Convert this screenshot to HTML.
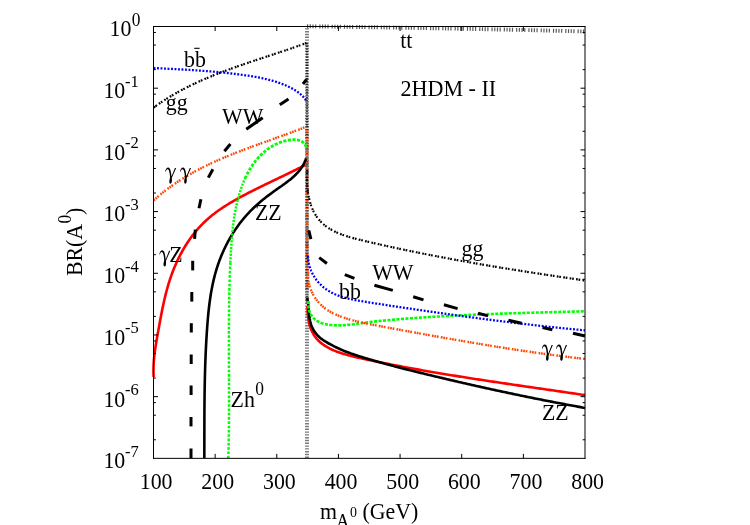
<!DOCTYPE html>
<html><head><meta charset="utf-8"><title>BR(A0) 2HDM-II</title>
<style>html,body{margin:0;padding:0;background:#fff;}svg{display:block;will-change:transform;}text{font-family:"Liberation Serif",serif;fill:#000;}</style>
</head><body>
<svg width="750" height="525" viewBox="0 0 750 525">
<rect x="0" y="0" width="750" height="525" fill="#fff"/>
<g fill="none">
<path d="M307 458 V26.6" stroke="#7a7a7a" stroke-width="3.9" stroke-dasharray="1.4 1.4"/>
<path d="M307 43 V126" stroke="#000" stroke-width="2.3" stroke-dasharray="1.4 1.3" opacity="0.75"/>
<path d="M307 126 V300" stroke="#000" stroke-width="3.0" stroke-dasharray="1.1 1.6" opacity="0.7"/>
<path d="M307 127.1 V290" stroke="#ff4500" stroke-width="3.0" stroke-dasharray="1.0 1.7"/>
</g>
<path d="M153.65 377.01 L153.57 375.48 L153.51 373.96 L153.47 372.43 L153.46 370.91 L153.46 369.40 L153.49 367.88 L153.53 366.37 L153.60 364.86 L153.68 363.36 L153.78 361.86 L153.89 360.36 L154.02 358.86 L154.16 357.36 L154.32 355.87 L154.49 354.38 L154.67 352.89 L154.87 351.40 L155.07 349.91 L155.28 348.42 L155.51 346.94 L155.74 345.45 L155.98 343.97 L156.22 342.49 L156.47 341.00 L156.73 339.52 L156.98 338.04 L157.25 336.56 L157.51 335.07 L157.78 333.59 L158.05 332.11 L158.32 330.62 L158.58 329.14 L158.85 327.66 L159.12 326.17 L159.39 324.69 L159.66 323.20 L159.93 321.71 L160.21 320.23 L160.48 318.74 L160.76 317.26 L161.04 315.77 L161.33 314.29 L161.61 312.81 L161.91 311.33 L162.20 309.84 L162.50 308.36 L162.81 306.88 L163.12 305.41 L163.44 303.93 L163.76 302.46 L164.09 300.98 L164.43 299.51 L164.77 298.04 L165.12 296.57 L165.48 295.11 L165.85 293.64 L166.23 292.18 L166.61 290.72 L167.00 289.27 L167.41 287.82 L167.82 286.37 L168.24 284.92 L168.68 283.47 L169.12 282.03 L169.58 280.59 L170.05 279.16 L170.53 277.73 L171.02 276.30 L171.53 274.88 L172.04 273.46 L172.58 272.04 L173.12 270.63 L173.68 269.23 L174.25 267.83 L174.83 266.43 L175.42 265.04 L176.03 263.66 L176.65 262.28 L177.29 260.91 L177.94 259.54 L178.60 258.18 L179.27 256.83 L179.96 255.49 L180.66 254.15 L181.37 252.82 L182.10 251.50 L182.84 250.18 L183.60 248.88 L184.36 247.58 L185.15 246.29 L185.94 245.02 L186.75 243.75 L187.57 242.49 L188.41 241.24 L189.26 240.00 L190.12 238.77 L191.00 237.55 L191.89 236.34 L192.80 235.14 L193.72 233.96 L194.65 232.79 L195.60 231.62 L196.56 230.47 L197.54 229.33 L198.53 228.21 L199.53 227.10 L200.55 226.00 L201.58 224.91 L202.63 223.84 L203.69 222.78 L204.77 221.73 L205.86 220.70 L206.96 219.69 L208.08 218.69 L209.22 217.70 L210.37 216.73 L211.53 215.77 L212.71 214.83 L213.90 213.90 L215.10 212.98 L216.31 212.08 L217.53 211.19 L218.77 210.31 L220.01 209.45 L221.26 208.59 L222.53 207.75 L223.80 206.92 L225.08 206.10 L226.36 205.28 L227.65 204.48 L228.95 203.69 L230.26 202.91 L231.57 202.13 L232.88 201.37 L234.20 200.61 L235.52 199.86 L236.84 199.11 L238.17 198.38 L239.50 197.65 L240.82 196.92 L242.16 196.20 L243.49 195.49 L244.82 194.78 L246.16 194.08 L247.49 193.39 L248.83 192.69 L250.17 192.00 L251.51 191.32 L252.85 190.64 L254.19 189.97 L255.54 189.29 L256.88 188.62 L258.23 187.96 L259.57 187.30 L260.92 186.63 L262.27 185.98 L263.62 185.32 L264.97 184.67 L266.32 184.01 L267.67 183.36 L269.03 182.71 L270.38 182.06 L271.74 181.42 L273.09 180.77 L274.45 180.12 L275.80 179.47 L277.16 178.83 L278.52 178.18 L279.88 177.53 L281.24 176.88 L282.60 176.23 L283.96 175.58 L285.32 174.92 L286.68 174.27 L288.04 173.61 L289.40 172.95 L290.76 172.29 L292.11 171.62 L293.47 170.95 L294.83 170.28 L296.18 169.61 L297.53 168.93 L298.87 168.25 L300.22 167.57 L301.56 166.88 L302.89 166.19 L304.22 165.50 L305.54 164.80" fill="none" stroke="#ff0000" stroke-width="2.6" />
<path d="M307.37 306.01 L307.43 307.46 L307.50 308.93 L307.57 310.42 L307.66 311.92 L307.77 313.42 L307.90 314.94 L308.06 316.46 L308.24 317.97 L308.46 319.49 L308.71 320.99 L309.00 322.49 L309.33 323.97 L309.72 325.43 L310.15 326.88 L310.63 328.30 L311.18 329.70 L311.78 331.06 L312.44 332.40 L313.17 333.70 L313.95 334.97 L314.78 336.20 L315.66 337.39 L316.60 338.54 L317.58 339.65 L318.60 340.72 L319.67 341.74 L320.78 342.72 L321.93 343.66 L323.12 344.55 L324.34 345.40 L325.59 346.21 L326.87 346.98 L328.18 347.72 L329.51 348.42 L330.87 349.09 L332.24 349.73 L333.63 350.34 L335.04 350.92 L336.46 351.48 L337.90 352.01 L339.34 352.52 L340.79 353.01 L342.24 353.48 L343.70 353.93 L345.15 354.36 L346.61 354.78 L348.06 355.19 L349.52 355.58 L350.98 355.96 L352.44 356.32 L353.90 356.68 L355.36 357.03 L356.82 357.37 L358.28 357.70 L359.74 358.03 L361.21 358.35 L362.67 358.67 L364.13 358.99 L365.60 359.30 L367.06 359.62 L368.53 359.93 L369.99 360.24 L371.46 360.55 L372.93 360.85 L374.39 361.16 L375.86 361.46 L377.33 361.76 L378.80 362.06 L380.27 362.36 L381.74 362.66 L383.20 362.95 L384.67 363.25 L386.15 363.54 L387.62 363.83 L389.09 364.12 L390.56 364.41 L392.03 364.70 L393.50 364.98 L394.98 365.27 L396.45 365.55 L397.92 365.83 L399.40 366.11 L400.87 366.39 L402.35 366.67 L403.82 366.94 L405.30 367.22 L406.77 367.49 L408.25 367.76 L409.73 368.04 L411.20 368.30 L412.68 368.57 L414.16 368.84 L415.64 369.11 L417.11 369.37 L418.59 369.64 L420.07 369.90 L421.55 370.16 L423.03 370.42 L424.51 370.68 L425.99 370.94 L427.47 371.19 L428.95 371.45 L430.43 371.71 L431.91 371.96 L433.39 372.21 L434.88 372.46 L436.36 372.71 L437.84 372.96 L439.32 373.21 L440.80 373.46 L442.29 373.71 L443.77 373.95 L445.25 374.20 L446.74 374.44 L448.22 374.69 L449.70 374.93 L451.19 375.17 L452.67 375.41 L454.16 375.65 L455.64 375.89 L457.13 376.13 L458.61 376.37 L460.10 376.60 L461.58 376.84 L463.07 377.07 L464.55 377.31 L466.04 377.54 L467.52 377.77 L469.01 378.01 L470.50 378.24 L471.98 378.47 L473.47 378.70 L474.96 378.93 L476.44 379.16 L477.93 379.39 L479.42 379.61 L480.90 379.84 L482.39 380.07 L483.88 380.29 L485.37 380.52 L486.85 380.74 L488.34 380.97 L489.83 381.19 L491.32 381.42 L492.80 381.64 L494.29 381.86 L495.78 382.08 L497.27 382.31 L498.75 382.53 L500.24 382.75 L501.73 382.97 L503.22 383.19 L504.71 383.41 L506.19 383.63 L507.68 383.85 L509.17 384.07 L510.66 384.28 L512.15 384.50 L513.63 384.72 L515.12 384.94 L516.61 385.15 L518.10 385.37 L519.59 385.59 L521.07 385.81 L522.56 386.02 L524.05 386.24 L525.54 386.45 L527.03 386.67 L528.51 386.89 L530.00 387.10 L531.49 387.32 L532.98 387.53 L534.46 387.75 L535.95 387.96 L537.44 388.18 L538.93 388.39 L540.41 388.61 L541.90 388.82 L543.39 389.04 L544.87 389.25 L546.36 389.47 L547.85 389.68 L549.33 389.90 L550.82 390.12 L552.30 390.33 L553.79 390.55 L555.28 390.76 L556.76 390.98 L558.25 391.19 L559.73 391.41 L561.22 391.63 L562.70 391.84 L564.19 392.06 L565.67 392.28 L567.16 392.49 L568.64 392.71 L570.13 392.93 L571.61 393.15 L573.09 393.36 L574.58 393.58 L576.06 393.80 L577.54 394.02 L579.03 394.24 L580.51 394.46 L581.99 394.68 L583.47 394.90 L584.96 395.12" fill="none" stroke="#ff0000" stroke-width="2.6" />
<path d="M204.31 458.00 L204.32 456.49 L204.32 454.99 L204.32 453.48 L204.33 451.97 L204.33 450.46 L204.34 448.95 L204.34 447.44 L204.34 445.94 L204.34 444.43 L204.35 442.92 L204.35 441.42 L204.35 439.91 L204.35 438.41 L204.35 436.90 L204.36 435.40 L204.36 433.89 L204.36 432.39 L204.36 430.88 L204.37 429.38 L204.37 427.87 L204.37 426.37 L204.38 424.87 L204.38 423.36 L204.39 421.86 L204.39 420.36 L204.40 418.86 L204.40 417.35 L204.41 415.85 L204.42 414.35 L204.43 412.85 L204.43 411.35 L204.44 409.84 L204.45 408.34 L204.46 406.84 L204.48 405.34 L204.49 403.84 L204.50 402.34 L204.52 400.84 L204.53 399.34 L204.55 397.84 L204.57 396.34 L204.58 394.83 L204.60 393.33 L204.62 391.83 L204.65 390.33 L204.67 388.83 L204.70 387.33 L204.72 385.83 L204.75 384.33 L204.78 382.83 L204.81 381.33 L204.84 379.83 L204.87 378.33 L204.91 376.83 L204.94 375.33 L204.98 373.83 L205.02 372.33 L205.06 370.83 L205.11 369.33 L205.15 367.83 L205.20 366.33 L205.25 364.83 L205.30 363.33 L205.35 361.83 L205.40 360.33 L205.46 358.83 L205.52 357.33 L205.58 355.83 L205.64 354.32 L205.71 352.82 L205.78 351.32 L205.84 349.82 L205.92 348.32 L205.99 346.82 L206.07 345.31 L206.15 343.81 L206.23 342.31 L206.31 340.81 L206.40 339.30 L206.49 337.80 L206.58 336.30 L206.67 334.80 L206.77 333.29 L206.87 331.79 L206.97 330.28 L207.08 328.78 L207.18 327.28 L207.29 325.77 L207.41 324.27 L207.53 322.76 L207.65 321.26 L207.77 319.75 L207.90 318.25 L208.04 316.74 L208.18 315.24 L208.32 313.74 L208.47 312.24 L208.63 310.74 L208.79 309.24 L208.96 307.74 L209.14 306.24 L209.32 304.74 L209.51 303.25 L209.70 301.75 L209.91 300.26 L210.12 298.77 L210.34 297.28 L210.57 295.80 L210.81 294.31 L211.05 292.83 L211.31 291.35 L211.58 289.87 L211.85 288.39 L212.14 286.92 L212.43 285.45 L212.74 283.98 L213.06 282.51 L213.39 281.05 L213.73 279.59 L214.08 278.13 L214.45 276.68 L214.82 275.22 L215.21 273.78 L215.61 272.33 L216.03 270.89 L216.46 269.46 L216.90 268.02 L217.36 266.59 L217.83 265.17 L218.31 263.75 L218.81 262.33 L219.33 260.92 L219.86 259.51 L220.40 258.11 L220.95 256.71 L221.52 255.32 L222.11 253.93 L222.71 252.55 L223.32 251.18 L223.94 249.81 L224.58 248.44 L225.24 247.09 L225.90 245.74 L226.58 244.40 L227.28 243.06 L227.99 241.73 L228.71 240.41 L229.44 239.10 L230.19 237.79 L230.96 236.50 L231.73 235.21 L232.52 233.93 L233.32 232.65 L234.14 231.39 L234.97 230.14 L235.81 228.89 L236.67 227.66 L237.54 226.43 L238.42 225.22 L239.31 224.01 L240.22 222.81 L241.14 221.63 L242.08 220.45 L243.03 219.29 L243.99 218.14 L244.96 217.00 L245.95 215.87 L246.95 214.75 L247.96 213.64 L248.98 212.55 L250.02 211.46 L251.07 210.39 L252.13 209.33 L253.21 208.29 L254.29 207.25 L255.39 206.23 L256.50 205.22 L257.62 204.22 L258.75 203.23 L259.89 202.25 L261.04 201.27 L262.20 200.31 L263.36 199.36 L264.54 198.42 L265.72 197.48 L266.92 196.56 L268.12 195.64 L269.32 194.73 L270.54 193.83 L271.76 192.93 L272.98 192.05 L274.21 191.16 L275.45 190.29 L276.69 189.42 L277.93 188.55 L279.17 187.68 L280.41 186.81 L281.65 185.94 L282.88 185.06 L284.10 184.18 L285.31 183.29 L286.52 182.40 L287.71 181.49 L288.90 180.57 L290.06 179.64 L291.21 178.70 L292.34 177.73 L293.45 176.75 L294.54 175.75 L295.60 174.72 L296.64 173.67 L297.64 172.59 L298.61 171.49 L299.55 170.35 L300.45 169.18 L301.31 167.98 L302.13 166.74 L302.90 165.46 L303.63 164.14 L304.32 162.78 L304.95 161.37 L305.52 159.92 L306.05 158.42" fill="none" stroke="#000" stroke-width="2.6" />
<path d="M307.22 298.02 L307.51 299.41 L307.75 300.84 L307.95 302.29 L308.13 303.76 L308.28 305.26 L308.42 306.77 L308.56 308.30 L308.68 309.83 L308.82 311.37 L308.96 312.91 L309.12 314.45 L309.30 315.98 L309.51 317.51 L309.75 319.02 L310.04 320.51 L310.38 321.98 L310.76 323.43 L311.21 324.85 L311.73 326.24 L312.32 327.60 L312.97 328.92 L313.68 330.20 L314.46 331.44 L315.30 332.64 L316.20 333.80 L317.16 334.92 L318.18 335.99 L319.25 337.01 L320.37 337.98 L321.54 338.91 L322.75 339.79 L323.99 340.64 L325.27 341.46 L326.58 342.24 L327.90 343.00 L329.24 343.74 L330.58 344.46 L331.93 345.17 L333.28 345.87 L334.64 346.55 L335.99 347.22 L337.35 347.88 L338.71 348.53 L340.07 349.15 L341.44 349.77 L342.82 350.36 L344.20 350.94 L345.59 351.50 L346.98 352.05 L348.38 352.58 L349.78 353.09 L351.19 353.60 L352.61 354.09 L354.02 354.57 L355.44 355.04 L356.87 355.50 L358.30 355.96 L359.73 356.41 L361.16 356.85 L362.59 357.29 L364.03 357.72 L365.46 358.15 L366.90 358.58 L368.33 359.00 L369.77 359.42 L371.21 359.84 L372.65 360.26 L374.09 360.68 L375.54 361.09 L376.98 361.50 L378.42 361.91 L379.87 362.31 L381.31 362.71 L382.76 363.11 L384.21 363.51 L385.65 363.91 L387.10 364.30 L388.55 364.69 L390.00 365.08 L391.45 365.47 L392.90 365.86 L394.35 366.24 L395.80 366.62 L397.26 367.00 L398.71 367.38 L400.16 367.76 L401.62 368.13 L403.07 368.51 L404.53 368.88 L405.98 369.25 L407.44 369.62 L408.89 369.99 L410.35 370.35 L411.81 370.72 L413.27 371.08 L414.72 371.44 L416.18 371.81 L417.64 372.17 L419.10 372.52 L420.56 372.88 L422.02 373.24 L423.48 373.59 L424.94 373.95 L426.40 374.30 L427.86 374.65 L429.32 375.01 L430.78 375.36 L432.24 375.71 L433.70 376.06 L435.16 376.41 L436.62 376.76 L438.09 377.10 L439.55 377.45 L441.01 377.80 L442.47 378.14 L443.93 378.49 L445.39 378.83 L446.86 379.18 L448.32 379.52 L449.78 379.86 L451.24 380.20 L452.70 380.54 L454.17 380.88 L455.63 381.22 L457.09 381.56 L458.56 381.90 L460.02 382.24 L461.48 382.57 L462.95 382.91 L464.41 383.24 L465.87 383.58 L467.34 383.91 L468.80 384.24 L470.26 384.58 L471.73 384.91 L473.19 385.24 L474.66 385.57 L476.12 385.90 L477.59 386.23 L479.05 386.55 L480.52 386.88 L481.98 387.21 L483.45 387.53 L484.91 387.86 L486.38 388.18 L487.84 388.50 L489.31 388.83 L490.78 389.15 L492.24 389.47 L493.71 389.79 L495.18 390.11 L496.64 390.43 L498.11 390.74 L499.58 391.06 L501.05 391.38 L502.51 391.69 L503.98 392.00 L505.45 392.32 L506.92 392.63 L508.38 392.94 L509.85 393.25 L511.32 393.56 L512.79 393.87 L514.26 394.18 L515.73 394.49 L517.20 394.80 L518.67 395.10 L520.14 395.41 L521.61 395.71 L523.08 396.01 L524.55 396.32 L526.02 396.62 L527.49 396.92 L528.96 397.22 L530.43 397.52 L531.90 397.82 L533.37 398.11 L534.85 398.41 L536.32 398.71 L537.79 399.00 L539.26 399.29 L540.73 399.59 L542.21 399.88 L543.68 400.17 L545.15 400.46 L546.63 400.75 L548.10 401.04 L549.57 401.32 L551.05 401.61 L552.52 401.90 L554.00 402.18 L555.47 402.47 L556.95 402.75 L558.42 403.03 L559.90 403.31 L561.37 403.59 L562.85 403.87 L564.33 404.15 L565.80 404.43 L567.28 404.70 L568.76 404.98 L570.23 405.25 L571.71 405.52 L573.19 405.80 L574.67 406.07 L576.14 406.34 L577.62 406.61 L579.10 406.88 L580.58 407.14 L582.06 407.41 L583.54 407.68 L585.02 407.94" fill="none" stroke="#000" stroke-width="2.6" />
<path d="M228.29 458.35 L228.34 456.85 L228.38 455.35 L228.42 453.84 L228.46 452.34 L228.50 450.84 L228.54 449.34 L228.57 447.83 L228.61 446.33 L228.64 444.83 L228.67 443.32 L228.70 441.82 L228.73 440.32 L228.75 438.82 L228.78 437.31 L228.80 435.81 L228.82 434.30 L228.84 432.80 L228.86 431.30 L228.88 429.79 L228.90 428.29 L228.92 426.78 L228.93 425.28 L228.94 423.78 L228.96 422.27 L228.97 420.77 L228.98 419.26 L228.99 417.76 L229.00 416.25 L229.01 414.75 L229.01 413.24 L229.02 411.74 L229.03 410.23 L229.03 408.73 L229.03 407.22 L229.04 405.71 L229.04 404.21 L229.04 402.70 L229.04 401.20 L229.04 399.69 L229.04 398.19 L229.04 396.68 L229.04 395.17 L229.04 393.67 L229.04 392.16 L229.03 390.66 L229.03 389.15 L229.03 387.64 L229.02 386.14 L229.02 384.63 L229.02 383.13 L229.01 381.62 L229.01 380.11 L229.00 378.61 L229.00 377.10 L228.99 375.59 L228.98 374.09 L228.98 372.58 L228.97 371.07 L228.97 369.57 L228.96 368.06 L228.96 366.55 L228.95 365.05 L228.94 363.54 L228.94 362.03 L228.93 360.53 L228.93 359.02 L228.92 357.51 L228.92 356.01 L228.91 354.50 L228.91 352.99 L228.91 351.49 L228.90 349.98 L228.90 348.47 L228.90 346.97 L228.90 345.46 L228.89 343.95 L228.89 342.45 L228.89 340.94 L228.89 339.43 L228.89 337.93 L228.89 336.42 L228.90 334.91 L228.90 333.41 L228.90 331.90 L228.91 330.39 L228.91 328.89 L228.92 327.38 L228.92 325.87 L228.93 324.37 L228.94 322.86 L228.95 321.36 L228.96 319.85 L228.97 318.34 L228.98 316.84 L228.99 315.33 L229.01 313.83 L229.02 312.32 L229.04 310.81 L229.06 309.31 L229.07 307.80 L229.09 306.30 L229.12 304.79 L229.14 303.29 L229.16 301.78 L229.19 300.27 L229.21 298.77 L229.24 297.26 L229.27 295.76 L229.30 294.25 L229.33 292.75 L229.37 291.24 L229.40 289.74 L229.44 288.23 L229.48 286.73 L229.52 285.23 L229.56 283.72 L229.60 282.22 L229.65 280.71 L229.70 279.21 L229.74 277.70 L229.79 276.20 L229.85 274.70 L229.90 273.19 L229.96 271.69 L230.02 270.19 L230.08 268.68 L230.14 267.18 L230.20 265.68 L230.27 264.17 L230.34 262.67" fill="none" stroke="#00ff00" stroke-width="2.5" stroke-dasharray="2.6 1.7"/>
<path d="M230.34 262.67 L230.41 261.17 L230.48 259.66 L230.55 258.16 L230.63 256.66 L230.71 255.16 L230.79 253.66 L230.87 252.15 L230.96 250.65 L231.05 249.15 L231.14 247.65 L231.24 246.15 L231.34 244.65 L231.44 243.15 L231.55 241.65 L231.66 240.15 L231.78 238.65 L231.90 237.15 L232.03 235.65 L232.16 234.16 L232.30 232.66 L232.45 231.17 L232.61 229.67 L232.77 228.18 L232.94 226.69 L233.12 225.19 L233.30 223.70 L233.50 222.22 L233.70 220.73 L233.91 219.24 L234.13 217.76 L234.37 216.27 L234.61 214.79 L234.86 213.31 L235.13 211.83 L235.40 210.35 L235.69 208.87 L235.99 207.40 L236.30 205.92 L236.62 204.45 L236.96 202.98 L237.31 201.51 L237.67 200.05 L238.05 198.58 L238.44 197.12 L238.84 195.66 L239.26 194.20 L239.70 192.75 L240.15 191.30 L240.62 189.86 L241.10 188.42 L241.60 186.99 L242.12 185.56 L242.66 184.15 L243.21 182.74 L243.79 181.34 L244.38 179.95 L244.99 178.57" fill="none" stroke="#00ff00" stroke-width="2.5" stroke-dasharray="2.1 1.3"/>
<path d="M244.99 178.57 L245.62 177.20 L246.27 175.84 L246.94 174.49 L247.63 173.16 L248.35 171.84 L249.08 170.53 L249.84 169.24 L250.62 167.96 L251.42 166.70 L252.25 165.46 L253.10 164.23 L253.97 163.02 L254.87 161.83 L255.80 160.65 L256.75 159.50 L257.72 158.37 L258.72 157.26 L259.75 156.16 L260.80 155.10 L261.88 154.05 L262.99 153.03 L264.12 152.04 L265.27 151.08 L266.45 150.14 L267.65 149.23 L268.88 148.36 L270.13 147.52 L271.40 146.71 L272.70 145.94 L274.02 145.21 L275.35 144.51 L276.71 143.85 L278.09 143.24 L279.49 142.66 L280.92 142.13 L282.36 141.64 L283.81 141.20 L285.29 140.81 L286.79 140.46 L288.30 140.17 L289.83 139.93 L291.36 139.76 L292.89 139.66 L294.40 139.65 L295.89 139.74 L297.34 139.94 L298.75 140.27 L300.12 140.72 L301.42 141.32 L302.64 142.08 L303.77 143.00 L304.75 144.11 L305.54 145.43 L306.11 146.97" fill="none" stroke="#00ff00" stroke-width="2.8" stroke-dasharray="3.1 1.5"/>
<path d="M308.54 300.86 L308.36 302.48 L308.29 304.10 L308.35 305.71 L308.51 307.29 L308.79 308.84 L309.17 310.35 L309.65 311.81 L310.24 313.22 L310.92 314.55 L311.70 315.81 L312.56 316.99 L313.51 318.07 L314.55 319.06 L315.66 319.96 L316.83 320.76 L318.08 321.49 L319.38 322.14 L320.72 322.72 L322.12 323.22 L323.55 323.66 L325.01 324.04 L326.50 324.36 L328.01 324.64 L329.53 324.86 L331.06 325.04 L332.58 325.18 L334.11 325.28 L335.63 325.35 L337.15 325.38 L338.66 325.39 L340.18 325.37 L341.69 325.32 L343.20 325.25 L344.70 325.15 L346.21 325.04 L347.71 324.91 L349.21 324.76 L350.71 324.59 L352.21 324.42 L353.71 324.23 L355.20 324.04 L356.70 323.84 L358.20 323.63 L359.69 323.42 L361.19 323.22 L362.68 323.01 L364.17 322.81 L365.67 322.61 L367.16 322.42 L368.66 322.23 L370.15 322.05 L371.65 321.87 L373.15 321.70 L374.64 321.53 L376.14 321.36 L377.63 321.20 L379.13 321.05 L380.63 320.89 L382.12 320.74 L383.62 320.59 L385.12 320.45 L386.61 320.31 L388.11 320.17 L389.61 320.03 L391.11 319.90 L392.60 319.77 L394.10 319.64 L395.60 319.51 L397.10 319.39 L398.60 319.26 L400.10 319.14 L401.59 319.02 L403.09 318.90 L404.59 318.78 L406.09 318.66 L407.59 318.54 L409.09 318.43 L410.59 318.32 L412.09 318.21 L413.59 318.10 L415.09 317.99 L416.59 317.88 L418.09 317.78 L419.59 317.67 L421.09 317.57 L422.59 317.47 L424.09 317.37 L425.59 317.27 L427.10 317.17 L428.60 317.07 L430.10 316.98 L431.60 316.88 L433.10 316.79 L434.60 316.70 L436.10 316.61 L437.61 316.52 L439.11 316.43 L440.61 316.34 L442.11 316.26 L443.62 316.17 L445.12 316.09 L446.62 316.01 L448.12 315.93 L449.63 315.85 L451.13 315.77 L452.63 315.69 L454.13 315.61 L455.64 315.54 L457.14 315.46 L458.64 315.39 L460.15 315.31 L461.65 315.24 L463.15 315.17 L464.66 315.10 L466.16 315.03 L467.66 314.96 L469.17 314.90 L470.67 314.83 L472.18 314.76 L473.68 314.70 L475.18 314.63 L476.69 314.57 L478.19 314.51 L479.70 314.45 L481.20 314.39 L482.70 314.33 L484.21 314.27 L485.71 314.21 L487.22 314.15 L488.72 314.09 L490.23 314.04 L491.73 313.98 L493.23 313.93 L494.74 313.87 L496.24 313.82 L497.75 313.77 L499.25 313.71 L500.76 313.66 L502.26 313.61 L503.77 313.56 L505.27 313.51 L506.78 313.46 L508.28 313.41 L509.79 313.36 L511.29 313.31 L512.79 313.27 L514.30 313.22 L515.80 313.17 L517.31 313.13 L518.81 313.08 L520.32 313.03 L521.82 312.99 L523.33 312.94 L524.83 312.90 L526.34 312.86 L527.84 312.81 L529.35 312.77 L530.85 312.73 L532.36 312.68 L533.86 312.64 L535.37 312.60 L536.87 312.56 L538.37 312.52 L539.88 312.48 L541.38 312.43 L542.89 312.39 L544.39 312.35 L545.90 312.31 L547.40 312.27 L548.91 312.23 L550.41 312.19 L551.91 312.15 L553.42 312.11 L554.92 312.07 L556.43 312.03 L557.93 311.99 L559.43 311.95 L560.94 311.92 L562.44 311.88 L563.95 311.84 L565.45 311.80 L566.95 311.76 L568.46 311.72 L569.96 311.68 L571.46 311.64 L572.97 311.60 L574.47 311.56 L575.97 311.52 L577.48 311.48 L578.98 311.44 L580.48 311.40 L581.99 311.36 L583.49 311.32 L584.99 311.28" fill="none" stroke="#00ff00" stroke-width="2.6" stroke-dasharray="3.1 1.4"/>
<path d="M153.63 200.39 L154.78 199.35 L155.93 198.33 L157.08 197.31 L158.25 196.31 L159.42 195.32 L160.59 194.34 L161.78 193.38 L162.97 192.42 L164.16 191.48 L165.36 190.54 L166.57 189.62 L167.79 188.70 L169.00 187.80 L170.23 186.91 L171.46 186.03 L172.70 185.15 L173.94 184.29 L175.19 183.44 L176.44 182.60 L177.70 181.76 L178.96 180.94 L180.23 180.12 L181.50 179.32 L182.78 178.52 L184.06 177.73 L185.35 176.95 L186.64 176.18 L187.94 175.42 L189.24 174.66 L190.55 173.92 L191.86 173.18 L193.17 172.45 L194.49 171.72 L195.81 171.01 L197.14 170.30 L198.47 169.60 L199.81 168.91 L201.15 168.22 L202.49 167.54 L203.84 166.87 L205.19 166.20 L206.54 165.54 L207.89 164.89 L209.25 164.24 L210.62 163.60 L211.98 162.96 L213.35 162.33 L214.73 161.71 L216.10 161.09 L217.48 160.47 L218.86 159.87 L220.24 159.26 L221.63 158.66 L223.02 158.07 L224.41 157.48 L225.80 156.90 L227.20 156.32 L228.60 155.74 L230.00 155.17 L231.40 154.60 L232.80 154.04 L234.21 153.48 L235.62 152.92 L237.02 152.37 L238.44 151.82 L239.85 151.27 L241.26 150.73 L242.68 150.18 L244.09 149.65 L245.51 149.11 L246.93 148.58 L248.35 148.05 L249.77 147.52 L251.19 146.99 L252.61 146.47 L254.04 145.94 L255.46 145.42 L256.88 144.90 L258.31 144.38 L259.73 143.87 L261.16 143.35 L262.58 142.83 L264.01 142.32 L265.44 141.81 L266.86 141.29 L268.29 140.78 L269.71 140.27 L271.14 139.75 L272.56 139.24 L273.99 138.73 L275.41 138.21 L276.83 137.70 L278.26 137.19 L279.68 136.67 L281.10 136.16 L282.52 135.64 L283.94 135.12 L285.35 134.60 L286.77 134.08 L288.19 133.56 L289.60 133.03 L291.01 132.51 L292.43 131.98 L293.83 131.45 L295.24 130.92 L296.65 130.39 L298.05 129.85 L299.46 129.31 L300.86 128.77 L302.25 128.22 L303.65 127.67 L305.05 127.12 L306.44 126.57" fill="none" stroke="#ff4500" stroke-width="2.4" stroke-dasharray="1.7 0.8 1.7 0.8 1.7 2.3"/>
<path d="M308.11 271.81 L308.03 273.40 L308.01 274.98 L308.05 276.55 L308.15 278.10 L308.31 279.64 L308.53 281.16 L308.80 282.66 L309.13 284.15 L309.51 285.62 L309.94 287.07 L310.43 288.50 L310.96 289.90 L311.54 291.28 L312.17 292.64 L312.85 293.97 L313.57 295.28 L314.33 296.56 L315.14 297.81 L315.98 299.03 L316.87 300.21 L317.80 301.37 L318.77 302.49 L319.77 303.58 L320.81 304.63 L321.88 305.65 L322.98 306.63 L324.12 307.57 L325.29 308.47 L326.48 309.33 L327.71 310.16 L328.96 310.94 L330.23 311.70 L331.53 312.42 L332.85 313.12 L334.19 313.78 L335.55 314.41 L336.92 315.02 L338.31 315.60 L339.71 316.15 L341.12 316.69 L342.54 317.20 L343.98 317.69 L345.41 318.17 L346.86 318.62 L348.31 319.06 L349.76 319.49 L351.21 319.90 L352.66 320.30 L354.12 320.68 L355.58 321.06 L357.04 321.42 L358.51 321.77 L359.97 322.11 L361.44 322.45 L362.91 322.77 L364.38 323.09 L365.85 323.40 L367.32 323.70 L368.79 324.00 L370.26 324.29 L371.74 324.58 L373.21 324.86 L374.69 325.14 L376.17 325.42 L377.64 325.69 L379.12 325.97 L380.60 326.24 L382.07 326.52 L383.55 326.79 L385.03 327.06 L386.50 327.34 L387.98 327.61 L389.46 327.88 L390.93 328.16 L392.41 328.43 L393.88 328.70 L395.36 328.98 L396.84 329.25 L398.31 329.52 L399.79 329.79 L401.27 330.07 L402.74 330.34 L404.22 330.61 L405.70 330.88 L407.17 331.15 L408.65 331.42 L410.12 331.69 L411.60 331.96 L413.08 332.23 L414.55 332.50 L416.03 332.77 L417.51 333.04 L418.98 333.31 L420.46 333.58 L421.94 333.85 L423.41 334.11 L424.89 334.38 L426.36 334.65 L427.84 334.92 L429.32 335.18 L430.79 335.45 L432.27 335.71 L433.75 335.98 L435.22 336.24 L436.70 336.51 L438.18 336.77 L439.66 337.03 L441.13 337.30 L442.61 337.56 L444.09 337.82 L445.56 338.08 L447.04 338.34 L448.52 338.60 L450.00 338.86 L451.47 339.12 L452.95 339.38 L454.43 339.64 L455.91 339.89 L457.38 340.15 L458.86 340.41 L460.34 340.66 L461.82 340.92 L463.30 341.17 L464.77 341.42 L466.25 341.68 L467.73 341.93 L469.21 342.18 L470.69 342.43 L472.17 342.68 L473.64 342.93 L475.12 343.18 L476.60 343.43 L478.08 343.68 L479.56 343.92 L481.04 344.17 L482.52 344.42 L484.00 344.66 L485.48 344.90 L486.96 345.15 L488.44 345.39 L489.92 345.63 L491.40 345.87 L492.88 346.11 L494.36 346.35 L495.84 346.59 L497.32 346.83 L498.80 347.06 L500.28 347.30 L501.77 347.53 L503.25 347.77 L504.73 348.00 L506.21 348.23 L507.69 348.46 L509.17 348.69 L510.66 348.92 L512.14 349.15 L513.62 349.38 L515.10 349.60 L516.59 349.83 L518.07 350.05 L519.55 350.27 L521.04 350.50 L522.52 350.72 L524.00 350.94 L525.49 351.16 L526.97 351.38 L528.46 351.59 L529.94 351.81 L531.43 352.02 L532.91 352.24 L534.40 352.45 L535.88 352.66 L537.37 352.87 L538.85 353.08 L540.34 353.29 L541.83 353.50 L543.31 353.70 L544.80 353.91 L546.29 354.11 L547.77 354.31 L549.26 354.51 L550.75 354.71 L552.24 354.91 L553.73 355.11 L555.21 355.31 L556.70 355.50 L558.19 355.70 L559.68 355.89 L561.17 356.08 L562.66 356.27 L564.15 356.46 L565.64 356.65 L567.13 356.83 L568.62 357.02 L570.11 357.20 L571.60 357.38 L573.09 357.56 L574.58 357.74 L576.08 357.92 L577.57 358.10 L579.06 358.27 L580.55 358.45 L582.05 358.62 L583.54 358.79 L585.03 358.96" fill="none" stroke="#ff4500" stroke-width="2.4" stroke-dasharray="1.7 0.8 1.7 0.8 1.7 2.3"/>
<path d="M153.54 68.02 L155.07 68.10 L156.59 68.18 L158.10 68.25 L159.62 68.33 L161.14 68.41 L162.65 68.48 L164.16 68.56 L165.68 68.63 L167.19 68.71 L168.70 68.79 L170.21 68.86 L171.71 68.94 L173.22 69.02 L174.73 69.10 L176.23 69.18 L177.73 69.26 L179.24 69.34 L180.74 69.42 L182.24 69.51 L183.74 69.59 L185.24 69.68 L186.74 69.76 L188.24 69.85 L189.74 69.94 L191.24 70.04 L192.73 70.13 L194.23 70.23 L195.72 70.32 L197.22 70.42 L198.71 70.53 L200.21 70.63 L201.70 70.74 L203.20 70.85 L204.69 70.96 L206.19 71.07 L207.68 71.19 L209.17 71.31 L210.67 71.43 L212.16 71.56 L213.65 71.69 L215.15 71.82 L216.64 71.95 L218.13 72.09 L219.63 72.23 L221.12 72.38 L222.61 72.53 L224.11 72.68 L225.60 72.84 L227.10 73.00 L228.59 73.16 L230.09 73.33 L231.58 73.51 L233.08 73.68 L234.57 73.87 L236.07 74.05 L237.57 74.24 L239.07 74.44 L240.57 74.64 L242.06 74.84 L243.56 75.05 L245.07 75.27 L246.57 75.49 L248.07 75.71 L249.57 75.94 L251.08 76.18 L252.58 76.43 L254.08 76.68 L255.58 76.94 L257.08 77.21 L258.58 77.49 L260.07 77.78 L261.56 78.08 L263.05 78.39 L264.53 78.71 L266.01 79.05 L267.48 79.40 L268.95 79.77 L270.41 80.15 L271.87 80.54 L273.32 80.96 L274.76 81.39 L276.20 81.83 L277.62 82.30 L279.04 82.79 L280.45 83.29 L281.85 83.82 L283.24 84.36 L284.62 84.93 L285.99 85.52 L287.35 86.13 L288.69 86.77 L290.03 87.43 L291.35 88.12 L292.66 88.83 L293.95 89.57 L295.23 90.34 L296.48 91.14 L297.72 91.98 L298.91 92.86 L300.08 93.78 L301.20 94.76 L302.28 95.79 L303.31 96.88 L304.28 98.03 L305.19 99.25 L306.04 100.54 L306.82 101.90" fill="none" stroke="#0000ff" stroke-width="2.3" stroke-dasharray="1.9 1.6"/>
<path d="M307.94 255.89 L308.01 257.45 L308.14 259.00 L308.32 260.54 L308.56 262.07 L308.86 263.58 L309.22 265.07 L309.63 266.55 L310.09 268.01 L310.60 269.44 L311.17 270.85 L311.78 272.24 L312.44 273.60 L313.15 274.93 L313.91 276.23 L314.71 277.51 L315.55 278.75 L316.44 279.95 L317.36 281.12 L318.33 282.26 L319.33 283.36 L320.37 284.42 L321.45 285.45 L322.55 286.44 L323.69 287.39 L324.86 288.31 L326.06 289.19 L327.28 290.04 L328.53 290.84 L329.80 291.61 L331.09 292.34 L332.41 293.03 L333.74 293.69 L335.09 294.31 L336.45 294.89 L337.84 295.44 L339.23 295.96 L340.65 296.45 L342.07 296.91 L343.51 297.34 L344.95 297.75 L346.41 298.14 L347.88 298.51 L349.35 298.85 L350.83 299.18 L352.32 299.50 L353.82 299.79 L355.31 300.08 L356.81 300.35 L358.32 300.62 L359.82 300.88 L361.33 301.13 L362.83 301.37 L364.34 301.62 L365.84 301.86 L367.34 302.10 L368.83 302.34 L370.33 302.58 L371.82 302.82 L373.32 303.05 L374.81 303.29 L376.30 303.52 L377.78 303.75 L379.27 303.98 L380.76 304.21 L382.24 304.44 L383.73 304.67 L385.21 304.90 L386.69 305.13 L388.18 305.35 L389.66 305.58 L391.14 305.81 L392.62 306.03 L394.11 306.25 L395.59 306.48 L397.07 306.70 L398.55 306.93 L400.04 307.15 L401.52 307.37 L403.00 307.59 L404.49 307.82 L405.97 308.04 L407.45 308.26 L408.94 308.48 L410.42 308.70 L411.91 308.92 L413.39 309.14 L414.88 309.36 L416.36 309.58 L417.85 309.80 L419.33 310.02 L420.82 310.23 L422.30 310.45 L423.79 310.67 L425.28 310.88 L426.76 311.10 L428.25 311.32 L429.74 311.53 L431.22 311.75 L432.71 311.96 L434.20 312.17 L435.69 312.39 L437.17 312.60 L438.66 312.81 L440.15 313.02 L441.64 313.24 L443.13 313.45 L444.61 313.66 L446.10 313.87 L447.59 314.08 L449.08 314.28 L450.57 314.49 L452.06 314.70 L453.55 314.91 L455.04 315.11 L456.53 315.32 L458.02 315.53 L459.51 315.73 L461.00 315.94 L462.49 316.14 L463.98 316.34 L465.47 316.55 L466.96 316.75 L468.45 316.95 L469.95 317.15 L471.44 317.35 L472.93 317.55 L474.42 317.75 L475.91 317.95 L477.40 318.14 L478.90 318.34 L480.39 318.54 L481.88 318.73 L483.37 318.93 L484.86 319.12 L486.36 319.32 L487.85 319.51 L489.34 319.70 L490.83 319.89 L492.33 320.09 L493.82 320.28 L495.31 320.46 L496.81 320.65 L498.30 320.84 L499.79 321.03 L501.29 321.22 L502.78 321.40 L504.27 321.59 L505.77 321.77 L507.26 321.96 L508.75 322.14 L510.25 322.32 L511.74 322.50 L513.24 322.68 L514.73 322.86 L516.22 323.04 L517.72 323.22 L519.21 323.40 L520.71 323.57 L522.20 323.75 L523.70 323.92 L525.19 324.10 L526.68 324.27 L528.18 324.44 L529.67 324.62 L531.17 324.79 L532.66 324.96 L534.16 325.13 L535.65 325.29 L537.15 325.46 L538.64 325.63 L540.14 325.79 L541.63 325.96 L543.13 326.12 L544.62 326.29 L546.12 326.45 L547.61 326.61 L549.11 326.77 L550.60 326.93 L552.10 327.09 L553.59 327.24 L555.09 327.40 L556.58 327.56 L558.08 327.71 L559.57 327.86 L561.07 328.02 L562.56 328.17 L564.06 328.32 L565.55 328.47 L567.05 328.62 L568.54 328.76 L570.04 328.91 L571.53 329.06 L573.03 329.20 L574.52 329.34 L576.01 329.49 L577.51 329.63 L579.00 329.77 L580.50 329.91 L581.99 330.05 L583.49 330.18 L584.98 330.32" fill="none" stroke="#0000ff" stroke-width="2.3" stroke-dasharray="1.9 1.6"/>
<path d="M153.55 107.60 L154.78 106.71 L156.01 105.83 L157.25 104.96 L158.50 104.09 L159.74 103.24 L161.00 102.40 L162.26 101.56 L163.52 100.74 L164.78 99.92 L166.06 99.12 L167.33 98.32 L168.61 97.53 L169.90 96.75 L171.18 95.98 L172.48 95.21 L173.77 94.46 L175.07 93.71 L176.38 92.97 L177.69 92.24 L179.00 91.52 L180.32 90.80 L181.64 90.09 L182.96 89.39 L184.29 88.70 L185.62 88.02 L186.95 87.34 L188.29 86.67 L189.63 86.00 L190.97 85.34 L192.32 84.69 L193.67 84.05 L195.02 83.41 L196.38 82.78 L197.74 82.15 L199.10 81.53 L200.47 80.92 L201.84 80.31 L203.21 79.71 L204.58 79.11 L205.96 78.52 L207.33 77.93 L208.71 77.35 L210.10 76.78 L211.48 76.21 L212.87 75.64 L214.26 75.08 L215.65 74.52 L217.05 73.97 L218.44 73.42 L219.84 72.88 L221.24 72.34 L222.64 71.81 L224.05 71.28 L225.45 70.75 L226.86 70.22 L228.27 69.70 L229.68 69.19 L231.09 68.67 L232.51 68.16 L233.92 67.66 L235.34 67.15 L236.75 66.65 L238.17 66.15 L239.59 65.65 L241.01 65.16 L242.43 64.67 L243.86 64.18 L245.28 63.69 L246.70 63.21 L248.13 62.73 L249.55 62.24 L250.98 61.76 L252.41 61.29 L253.83 60.81 L255.26 60.33 L256.69 59.86 L258.12 59.38 L259.54 58.91 L260.97 58.44 L262.40 57.97 L263.83 57.50 L265.26 57.03 L266.69 56.56 L268.12 56.09 L269.55 55.62 L270.97 55.15 L272.40 54.68 L273.83 54.21 L275.26 53.74 L276.68 53.27 L278.11 52.80 L279.53 52.33 L280.96 51.85 L282.38 51.38 L283.80 50.90 L285.23 50.43 L286.65 49.95 L288.07 49.47 L289.49 48.99 L290.90 48.51 L292.32 48.02 L293.74 47.54 L295.15 47.05 L296.56 46.56 L297.98 46.07 L299.39 45.57 L300.79 45.07 L302.20 44.57 L303.61 44.07 L305.01 43.56 L306.41 43.05" fill="none" stroke="#000" stroke-width="2.2" stroke-dasharray="1.7 0.8 1.7 2.3"/>
<path d="M307.26 169.97 L307.17 171.34 L307.09 172.74 L307.03 174.17 L306.99 175.61 L306.97 177.08 L306.97 178.56 L306.98 180.06 L307.02 181.57 L307.08 183.09 L307.16 184.62 L307.27 186.16 L307.40 187.70 L307.56 189.24 L307.74 190.79 L307.96 192.34 L308.20 193.88 L308.47 195.42 L308.77 196.96 L309.10 198.48 L309.46 199.99 L309.86 201.50 L310.29 202.98 L310.75 204.45 L311.25 205.90 L311.79 207.33 L312.37 208.74 L312.98 210.13 L313.63 211.48 L314.32 212.81 L315.06 214.11 L315.83 215.37 L316.65 216.61 L317.51 217.80 L318.40 218.97 L319.34 220.09 L320.32 221.19 L321.33 222.24 L322.38 223.26 L323.47 224.23 L324.59 225.17 L325.74 226.08 L326.93 226.94 L328.15 227.77 L329.39 228.57 L330.66 229.33 L331.96 230.07 L333.28 230.77 L334.62 231.44 L335.97 232.09 L337.35 232.70 L338.74 233.30 L340.14 233.86 L341.55 234.41 L342.98 234.93 L344.41 235.43 L345.85 235.91 L347.29 236.38 L348.73 236.82 L350.18 237.25 L351.63 237.67 L353.09 238.07 L354.55 238.46 L356.01 238.84 L357.47 239.22 L358.93 239.58 L360.40 239.94 L361.86 240.29 L363.33 240.64 L364.80 240.99 L366.26 241.34 L367.73 241.68 L369.20 242.02 L370.66 242.36 L372.13 242.70 L373.60 243.04 L375.07 243.38 L376.53 243.72 L378.00 244.05 L379.47 244.38 L380.94 244.71 L382.41 245.04 L383.88 245.37 L385.34 245.70 L386.81 246.02 L388.28 246.35 L389.75 246.67 L391.22 246.99 L392.69 247.31 L394.16 247.63 L395.63 247.95 L397.10 248.26 L398.57 248.58 L400.04 248.89 L401.51 249.20 L402.98 249.51 L404.45 249.82 L405.92 250.13 L407.39 250.44 L408.86 250.74 L410.33 251.05 L411.81 251.35 L413.28 251.65 L414.75 251.95 L416.22 252.25 L417.69 252.55 L419.16 252.85 L420.64 253.14 L422.11 253.44 L423.58 253.73 L425.05 254.02 L426.53 254.31 L428.00 254.60 L429.47 254.89 L430.95 255.18 L432.42 255.46 L433.89 255.75 L435.37 256.03 L436.84 256.32 L438.31 256.60 L439.79 256.88 L441.26 257.16 L442.74 257.44 L444.21 257.71 L445.69 257.99 L447.16 258.27 L448.64 258.54 L450.11 258.81 L451.59 259.08 L453.06 259.36 L454.54 259.63 L456.01 259.90 L457.49 260.16 L458.97 260.43 L460.44 260.70 L461.92 260.96 L463.39 261.23 L464.87 261.49 L466.35 261.75 L467.83 262.01 L469.30 262.28 L470.78 262.54 L472.26 262.79 L473.74 263.05 L475.21 263.31 L476.69 263.57 L478.17 263.82 L479.65 264.07 L481.13 264.33 L482.60 264.58 L484.08 264.83 L485.56 265.08 L487.04 265.33 L488.52 265.58 L490.00 265.83 L491.48 266.08 L492.96 266.33 L494.44 266.57 L495.92 266.82 L497.40 267.07 L498.88 267.31 L500.36 267.55 L501.84 267.80 L503.32 268.04 L504.80 268.28 L506.28 268.52 L507.77 268.76 L509.25 269.00 L510.73 269.24 L512.21 269.48 L513.69 269.71 L515.18 269.95 L516.66 270.19 L518.14 270.42 L519.62 270.66 L521.11 270.89 L522.59 271.12 L524.07 271.36 L525.56 271.59 L527.04 271.82 L528.52 272.05 L530.01 272.28 L531.49 272.51 L532.97 272.74 L534.46 272.97 L535.94 273.20 L537.43 273.43 L538.91 273.66 L540.40 273.88 L541.88 274.11 L543.37 274.33 L544.85 274.56 L546.34 274.79 L547.83 275.01 L549.31 275.23 L550.80 275.46 L552.28 275.68 L553.77 275.90 L555.26 276.13 L556.74 276.35 L558.23 276.57 L559.72 276.79 L561.21 277.01 L562.69 277.23 L564.18 277.45 L565.67 277.67 L567.16 277.89 L568.65 278.11 L570.13 278.33 L571.62 278.55 L573.11 278.77 L574.60 278.99 L576.09 279.21 L577.58 279.42 L579.07 279.64 L580.56 279.86 L582.05 280.07 L583.54 280.29 L585.03 280.51" fill="none" stroke="#000" stroke-width="2.2" stroke-dasharray="1.7 0.8 1.7 2.3"/>
<g stroke="#000" stroke-width="3" fill="none">
<line x1="191.0" y1="448.5" x2="191.0" y2="458.3"/>
<line x1="191.0" y1="417.0" x2="191.0" y2="426.4"/>
<line x1="191.1" y1="385.5" x2="191.1" y2="395.0"/>
<line x1="191.2" y1="354.5" x2="191.2" y2="364.0"/>
<line x1="191.3" y1="323.2" x2="191.3" y2="332.5"/>
<line x1="191.8" y1="292.0" x2="191.8" y2="301.6"/>
<line x1="192.7" y1="260.8" x2="192.7" y2="270.4"/>
<line x1="195.3" y1="229.6" x2="194.6" y2="238.9"/>
<line x1="200.9" y1="199.2" x2="199.0" y2="208.3"/>
<line x1="212.9" y1="169.2" x2="208.3" y2="177.6"/>
<line x1="230.4" y1="144.0" x2="224.4" y2="151.2"/>
<line x1="262.7" y1="117.7" x2="246.3" y2="129.3"/>
<line x1="288.5" y1="98.9" x2="279.8" y2="104.7"/>
<line x1="306.5" y1="79.4" x2="303.0" y2="84.0"/>
<line x1="308.8" y1="230.4" x2="310.9" y2="239.2"/>
<line x1="319.2" y1="257.6" x2="326.9" y2="263.5"/>
<line x1="344.8" y1="274.7" x2="354.4" y2="278.4"/>
<line x1="374.4" y1="285.3" x2="392.8" y2="290.4"/>
<line x1="413.2" y1="296.8" x2="423.5" y2="299.9"/>
<line x1="443.9" y1="304.8" x2="457.6" y2="308.6"/>
<line x1="478.0" y1="313.2" x2="488.0" y2="315.9"/>
<line x1="508.4" y1="320.3" x2="521.6" y2="323.3"/>
<line x1="542.5" y1="327.5" x2="552.4" y2="329.7"/>
<line x1="573.0" y1="333.3" x2="585.0" y2="336.0"/>
</g>
<path d="M307.00 26.25 L308.50 26.27 L310.01 26.30 L311.51 26.32 L313.01 26.34 L314.51 26.36 L316.02 26.39 L317.52 26.41 L319.02 26.43 L320.53 26.45 L322.03 26.48 L323.53 26.50 L325.03 26.52 L326.54 26.54 L328.04 26.56 L329.54 26.59 L331.05 26.61 L332.55 26.63 L334.05 26.65 L335.55 26.68 L337.06 26.70 L338.56 26.72 L340.06 26.75 L341.56 26.77 L343.07 26.79 L344.57 26.81 L346.07 26.84 L347.58 26.86 L349.08 26.88 L350.58 26.90 L352.08 26.93 L353.59 26.95 L355.09 26.97 L356.59 27.00 L358.10 27.02 L359.60 27.04 L361.10 27.06 L362.60 27.09 L364.11 27.11 L365.61 27.13 L367.11 27.16 L368.61 27.18 L370.12 27.20 L371.62 27.23 L373.12 27.25 L374.63 27.27 L376.13 27.30 L377.63 27.32 L379.13 27.34 L380.64 27.37 L382.14 27.39 L383.64 27.41 L385.15 27.44 L386.65 27.46 L388.15 27.49 L389.65 27.51 L391.16 27.53 L392.66 27.56 L394.16 27.58 L395.66 27.61 L397.17 27.63 L398.67 27.65 L400.17 27.68 L401.68 27.70 L403.18 27.73 L404.68 27.75 L406.18 27.78 L407.69 27.80 L409.19 27.83 L410.69 27.85 L412.20 27.87 L413.70 27.90 L415.20 27.92 L416.70 27.95 L418.21 27.97 L419.71 28.00 L421.21 28.03 L422.71 28.05 L424.22 28.08 L425.72 28.10 L427.22 28.13 L428.73 28.15 L430.23 28.18 L431.73 28.21 L433.23 28.23 L434.74 28.26 L436.24 28.28 L437.74 28.31 L439.25 28.34 L440.75 28.36 L442.25 28.39 L443.75 28.42 L445.26 28.44 L446.76 28.47 L448.26 28.50 L449.76 28.52 L451.27 28.55 L452.77 28.58 L454.27 28.61 L455.78 28.63 L457.28 28.66 L458.78 28.69 L460.28 28.72 L461.79 28.74 L463.29 28.77 L464.79 28.80 L466.29 28.83 L467.80 28.86 L469.30 28.88 L470.80 28.91 L472.31 28.94 L473.81 28.97 L475.31 29.00 L476.81 29.03 L478.32 29.06 L479.82 29.09 L481.32 29.12 L482.82 29.15 L484.33 29.18 L485.83 29.21 L487.33 29.24 L488.84 29.27 L490.34 29.30 L491.84 29.33 L493.34 29.36 L494.85 29.39 L496.35 29.42 L497.85 29.45 L499.35 29.48 L500.86 29.51 L502.36 29.54 L503.86 29.57 L505.36 29.61 L506.87 29.64 L508.37 29.67 L509.87 29.70 L511.38 29.73 L512.88 29.77 L514.38 29.80 L515.88 29.83 L517.39 29.86 L518.89 29.90 L520.39 29.93 L521.89 29.96 L523.40 30.00 L524.90 30.03 L526.40 30.06 L527.90 30.10 L529.41 30.13 L530.91 30.17 L532.41 30.20 L533.91 30.23 L535.42 30.27 L536.92 30.30 L538.42 30.34 L539.92 30.37 L541.43 30.41 L542.93 30.45 L544.43 30.48 L545.93 30.52 L547.44 30.55 L548.94 30.59 L550.44 30.63 L551.94 30.66 L553.45 30.70 L554.95 30.74 L556.45 30.77 L557.96 30.81 L559.46 30.85 L560.96 30.89 L562.46 30.92 L563.97 30.96 L565.47 31.00 L566.97 31.04 L568.47 31.08 L569.98 31.12 L571.48 31.15 L572.98 31.19 L574.48 31.23 L575.98 31.27 L577.49 31.31 L578.99 31.35 L580.49 31.39 L581.99 31.43 L583.50 31.47 L585.00 31.51" fill="none" stroke="#5a5a5a" stroke-width="3.9" stroke-dasharray="1.2 1.5 1.2 1.5 1.2 1.5 1.2 3.0"/>
<g stroke="#000" stroke-width="1" fill="none" stroke-linecap="square">
<line x1="153.50" y1="26.50" x2="153.50" y2="458.35"/>
<line x1="585.00" y1="26.50" x2="585.00" y2="458.35"/>
<line x1="153.50" y1="26.50" x2="585.00" y2="26.50"/>
<line x1="153.50" y1="458.35" x2="585.00" y2="458.35"/>
</g>
<g stroke="#000" stroke-width="1" fill="none">
<line x1="215.14" y1="458.35" x2="215.14" y2="453.85"/>
<line x1="215.14" y1="26.50" x2="215.14" y2="31.00"/>
<line x1="276.79" y1="458.35" x2="276.79" y2="453.85"/>
<line x1="276.79" y1="26.50" x2="276.79" y2="31.00"/>
<line x1="338.43" y1="458.35" x2="338.43" y2="453.85"/>
<line x1="338.43" y1="26.50" x2="338.43" y2="31.00"/>
<line x1="400.07" y1="458.35" x2="400.07" y2="453.85"/>
<line x1="400.07" y1="26.50" x2="400.07" y2="31.00"/>
<line x1="461.71" y1="458.35" x2="461.71" y2="453.85"/>
<line x1="461.71" y1="26.50" x2="461.71" y2="31.00"/>
<line x1="523.36" y1="458.35" x2="523.36" y2="453.85"/>
<line x1="523.36" y1="26.50" x2="523.36" y2="31.00"/>
<line x1="153.50" y1="32.48" x2="155.90" y2="32.48"/>
<line x1="585.00" y1="32.48" x2="582.60" y2="32.48"/>
<line x1="153.50" y1="45.07" x2="155.90" y2="45.07"/>
<line x1="585.00" y1="45.07" x2="582.60" y2="45.07"/>
<line x1="153.50" y1="69.62" x2="155.90" y2="69.62"/>
<line x1="585.00" y1="69.62" x2="582.60" y2="69.62"/>
<line x1="153.50" y1="88.19" x2="158.00" y2="88.19"/>
<line x1="585.00" y1="88.19" x2="580.50" y2="88.19"/>
<line x1="153.50" y1="94.17" x2="155.90" y2="94.17"/>
<line x1="585.00" y1="94.17" x2="582.60" y2="94.17"/>
<line x1="153.50" y1="106.76" x2="155.90" y2="106.76"/>
<line x1="585.00" y1="106.76" x2="582.60" y2="106.76"/>
<line x1="153.50" y1="131.31" x2="155.90" y2="131.31"/>
<line x1="585.00" y1="131.31" x2="582.60" y2="131.31"/>
<line x1="153.50" y1="149.89" x2="158.00" y2="149.89"/>
<line x1="585.00" y1="149.89" x2="580.50" y2="149.89"/>
<line x1="153.50" y1="155.86" x2="155.90" y2="155.86"/>
<line x1="585.00" y1="155.86" x2="582.60" y2="155.86"/>
<line x1="153.50" y1="168.46" x2="155.90" y2="168.46"/>
<line x1="585.00" y1="168.46" x2="582.60" y2="168.46"/>
<line x1="153.50" y1="193.01" x2="155.90" y2="193.01"/>
<line x1="585.00" y1="193.01" x2="582.60" y2="193.01"/>
<line x1="153.50" y1="211.58" x2="158.00" y2="211.58"/>
<line x1="585.00" y1="211.58" x2="580.50" y2="211.58"/>
<line x1="153.50" y1="217.56" x2="155.90" y2="217.56"/>
<line x1="585.00" y1="217.56" x2="582.60" y2="217.56"/>
<line x1="153.50" y1="230.15" x2="155.90" y2="230.15"/>
<line x1="585.00" y1="230.15" x2="582.60" y2="230.15"/>
<line x1="153.50" y1="254.70" x2="155.90" y2="254.70"/>
<line x1="585.00" y1="254.70" x2="582.60" y2="254.70"/>
<line x1="153.50" y1="273.27" x2="158.00" y2="273.27"/>
<line x1="585.00" y1="273.27" x2="580.50" y2="273.27"/>
<line x1="153.50" y1="279.25" x2="155.90" y2="279.25"/>
<line x1="585.00" y1="279.25" x2="582.60" y2="279.25"/>
<line x1="153.50" y1="291.84" x2="155.90" y2="291.84"/>
<line x1="585.00" y1="291.84" x2="582.60" y2="291.84"/>
<line x1="153.50" y1="316.39" x2="155.90" y2="316.39"/>
<line x1="585.00" y1="316.39" x2="582.60" y2="316.39"/>
<line x1="153.50" y1="334.96" x2="158.00" y2="334.96"/>
<line x1="585.00" y1="334.96" x2="580.50" y2="334.96"/>
<line x1="153.50" y1="340.94" x2="155.90" y2="340.94"/>
<line x1="585.00" y1="340.94" x2="582.60" y2="340.94"/>
<line x1="153.50" y1="353.54" x2="155.90" y2="353.54"/>
<line x1="585.00" y1="353.54" x2="582.60" y2="353.54"/>
<line x1="153.50" y1="378.09" x2="155.90" y2="378.09"/>
<line x1="585.00" y1="378.09" x2="582.60" y2="378.09"/>
<line x1="153.50" y1="396.66" x2="158.00" y2="396.66"/>
<line x1="585.00" y1="396.66" x2="580.50" y2="396.66"/>
<line x1="153.50" y1="402.64" x2="155.90" y2="402.64"/>
<line x1="585.00" y1="402.64" x2="582.60" y2="402.64"/>
<line x1="153.50" y1="415.23" x2="155.90" y2="415.23"/>
<line x1="585.00" y1="415.23" x2="582.60" y2="415.23"/>
<line x1="153.50" y1="439.78" x2="155.90" y2="439.78"/>
<line x1="585.00" y1="439.78" x2="582.60" y2="439.78"/>
</g>
<g id="labels">
<text transform="translate(139.72 488.50) scale(0.955 1)" font-size="22.9">100</text>
<text transform="translate(201.36 488.50) scale(0.955 1)" font-size="22.9">200</text>
<text transform="translate(263.00 488.50) scale(0.955 1)" font-size="22.9">300</text>
<text transform="translate(324.64 488.50) scale(0.955 1)" font-size="22.9">400</text>
<text transform="translate(386.29 488.50) scale(0.955 1)" font-size="22.9">500</text>
<text transform="translate(447.93 488.50) scale(0.955 1)" font-size="22.9">600</text>
<text transform="translate(509.57 488.50) scale(0.955 1)" font-size="22.9">700</text>
<text transform="translate(571.22 488.50) scale(0.955 1)" font-size="22.9">800</text>
<text transform="translate(109.50 36.40) scale(0.955 1)" font-size="22.9">10</text>
<text transform="translate(131.85 25.80) scale(0.955 1)" font-size="18.2">0</text>
<text transform="translate(103.40 98.09) scale(0.955 1)" font-size="22.9">10</text>
<text transform="translate(125.05 86.69) scale(0.955 1)" font-size="17.3">-1</text>
<text transform="translate(103.40 159.79) scale(0.955 1)" font-size="22.9">10</text>
<text transform="translate(125.05 148.39) scale(0.955 1)" font-size="17.3">-2</text>
<text transform="translate(103.40 221.48) scale(0.955 1)" font-size="22.9">10</text>
<text transform="translate(125.05 210.08) scale(0.955 1)" font-size="17.3">-3</text>
<text transform="translate(103.40 283.17) scale(0.955 1)" font-size="22.9">10</text>
<text transform="translate(125.05 271.77) scale(0.955 1)" font-size="17.3">-4</text>
<text transform="translate(103.40 344.86) scale(0.955 1)" font-size="22.9">10</text>
<text transform="translate(125.05 333.46) scale(0.955 1)" font-size="17.3">-5</text>
<text transform="translate(103.40 406.56) scale(0.955 1)" font-size="22.9">10</text>
<text transform="translate(125.05 395.16) scale(0.955 1)" font-size="17.3">-6</text>
<text transform="translate(103.40 468.25) scale(0.955 1)" font-size="22.9">10</text>
<text transform="translate(125.05 456.85) scale(0.955 1)" font-size="17.3">-7</text>
<text transform="translate(320.00 518.70) scale(0.955 1)" font-size="22.9">m</text>
<text transform="translate(336.60 526.70) scale(0.955 1)" font-size="18.3">A</text>
<text transform="translate(349.90 517.00) scale(0.955 1)" font-size="14.6">0</text>
<text transform="translate(362.50 518.70) scale(0.955 1)" font-size="22.9">(GeV)</text>
<text transform="translate(81.6 276.10) rotate(-90) scale(0.955 1)" font-size="22.9">BR(A</text>
<text transform="translate(70.6 223.61) rotate(-90) scale(0.955 1)" font-size="18.2">0</text>
<text transform="translate(81.6 214.89) rotate(-90) scale(0.955 1)" font-size="22.9">)</text>
<text transform="translate(184.00 66.80) scale(0.955 1)" font-size="22.9">bb</text>
<line x1="194.2" y1="48.3" x2="199.6" y2="48.3" stroke="#000" stroke-width="1.1"/>
<text transform="translate(165.80 110.00) scale(0.955 1)" font-size="22.9">gg</text>
<text transform="translate(222.00 123.60) scale(0.955 1)" font-size="22.9">WW</text>
<path transform="translate(158.00 160.00) scale(0.05714)" d="M127 203 C130 160 150 130 180 130 C212 130 228 190 236 290 L296 140 L318 140 L241 316 C247 350 245 415 218 415 C191 415 195 350 212 306 C206 230 196 165 170 160 C150 160 140 185 136 205 Z" fill="#000"/>
<path transform="translate(172.86 160.00) scale(0.05714)" d="M127 203 C130 160 150 130 180 130 C212 130 228 190 236 290 L296 140 L318 140 L241 316 C247 350 245 415 218 415 C191 415 195 350 212 306 C206 230 196 165 170 160 C150 160 140 185 136 205 Z" fill="#000"/>
<text transform="translate(255.00 219.50) scale(0.955 1)" font-size="22.9">ZZ</text>
<path transform="translate(152.14 242.86) scale(0.05714)" d="M127 203 C130 160 150 130 180 130 C212 130 228 190 236 290 L296 140 L318 140 L241 316 C247 350 245 415 218 415 C191 415 195 350 212 306 C206 230 196 165 170 160 C150 160 140 185 136 205 Z" fill="#000"/>
<text transform="translate(169.20 261.80) scale(0.955 1)" font-size="22.9">Z</text>
<text transform="translate(230.60 406.60) scale(0.955 1)" font-size="22.9">Zh</text>
<text transform="translate(255.30 395.30) scale(0.955 1)" font-size="18.2">0</text>
<text transform="translate(400.30 47.50) scale(0.955 1)" font-size="22.9">tt</text>
<text transform="translate(400.40 95.50) scale(0.966 1)" font-size="22.9">2HDM - II</text>
<text transform="translate(461.60 255.80) scale(0.955 1)" font-size="22.9">gg</text>
<text transform="translate(372.20 280.00) scale(0.955 1)" font-size="22.9">WW</text>
<text transform="translate(339.00 298.60) scale(0.955 1)" font-size="22.9">bb</text>
<path transform="translate(534.70 337.10) scale(0.05714)" d="M127 203 C130 160 150 130 180 130 C212 130 228 190 236 290 L296 140 L318 140 L241 316 C247 350 245 415 218 415 C191 415 195 350 212 306 C206 230 196 165 170 160 C150 160 140 185 136 205 Z" fill="#000"/>
<path transform="translate(548.90 337.10) scale(0.05714)" d="M127 203 C130 160 150 130 180 130 C212 130 228 190 236 290 L296 140 L318 140 L241 316 C247 350 245 415 218 415 C191 415 195 350 212 306 C206 230 196 165 170 160 C150 160 140 185 136 205 Z" fill="#000"/>
<text transform="translate(542.00 419.60) scale(0.955 1)" font-size="22.9">ZZ</text>
</g>
</svg></body></html>
